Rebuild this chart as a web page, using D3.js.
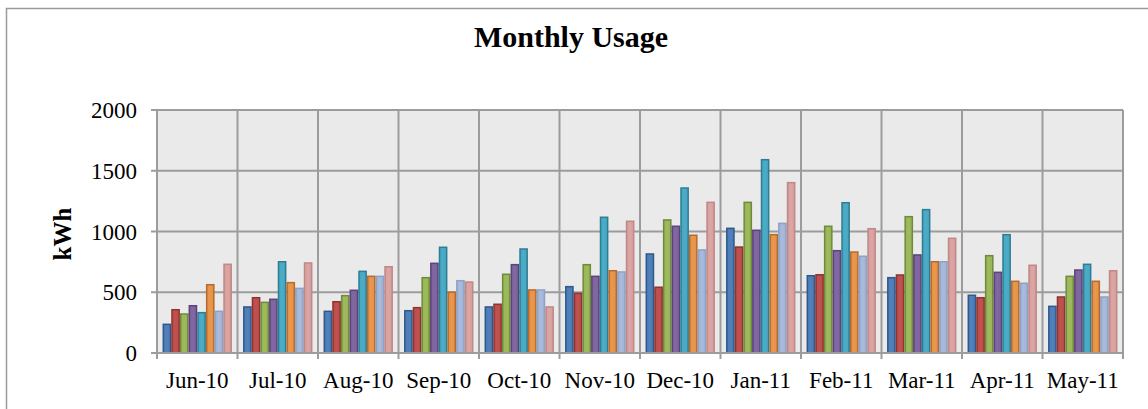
<!DOCTYPE html>
<html>
<head>
<meta charset="utf-8">
<script src="https://cdn.jsdelivr.net/npm/d3@7"></script>
<style>
  html, body { margin: 0; padding: 0; background: #fff; }
  svg { display: block; }
</style>
</head>
<body>
<svg id="chart" width="1148" height="409"></svg>
<script>
const months = ["Jun-10","Jul-10","Aug-10","Sep-10","Oct-10","Nov-10","Dec-10","Jan-11","Feb-11","Mar-11","Apr-11","May-11"];
const seriesNames = ["Series 1","Series 2","Series 3","Series 4","Series 5","Series 6","Series 7","Series 8"];
const s1 = [236, 379, 343, 348, 379, 546, 815, 1026, 636, 620, 475, 384];
const s2 = [356, 455, 422, 373, 401, 491, 541, 872, 644, 642, 455, 461];
const s3 = [321, 417, 472, 620, 648, 727, 1095, 1240, 1043, 1122, 801, 631];
const s4 = [389, 442, 516, 738, 727, 631, 1043, 1010, 842, 807, 664, 683];
const s5 = [332, 751, 672, 870, 856, 1117, 1358, 1591, 1237, 1180, 974, 730];
const s6 = [562, 579, 631, 500, 519, 677, 969, 974, 831, 751, 590, 590];
const s7 = [343, 532, 631, 595, 519, 667, 848, 1067, 796, 751, 574, 461];
const s8 = [730, 741, 710, 584, 379, 1084, 1240, 1402, 1023, 944, 722, 677];
const yTicks = [0, 500, 1000, 1500, 2000];
const titleText = "Monthly Usage";
const yTitle = "kWh";

const fills   = ["#4F7FB8","#BE504D","#9BB85A","#8165A0","#4AAAC4","#E8944C","#A6B8DA","#D9A3A2"];
const strokes = ["#30598A","#8E3431","#6F8A3D","#5B4479","#2F7D94","#B56B2C","#8EA2C6","#C08887"];

const allSeries = [s1,s2,s3,s4,s5,s6,s7,s8];
const svg = d3.select("#chart");
const font = "'Liberation Serif', 'Times New Roman', serif";

// outer chart border (cropped)
svg.append("path").attr("d","M6.5,1200 L6.5,8.5 L1200,8.5")
  .attr("fill","none").attr("stroke","#9a9a9a").attr("stroke-width",1.5);

const L = 157, R = 1123, T = 110, B = 353;
const x0 = d3.scaleBand().domain(months).range([L, R]).padding(0);
const x1 = d3.scaleBand().domain(seriesNames).range([0, x0.bandwidth()]).paddingInner(0).paddingOuter(0.64);
const y = d3.scaleLinear().domain([0, 2000]).range([B, T]);

// plot background
svg.append("rect").attr("x", L).attr("y", T).attr("width", R - L).attr("height", B - T).attr("fill", "#EAEAEA");

const gridColor = "#9c9c9c";
svg.append("g").selectAll("line").data(yTicks).join("line")
  .attr("x1", L - 6).attr("x2", R).attr("y1", d => y(d)).attr("y2", d => y(d))
  .attr("stroke", gridColor).attr("stroke-width", 2);
const bounds = months.map(m => x0(m)).concat([R]);
svg.append("g").selectAll("line").data(bounds).join("line")
  .attr("x1", d => d).attr("x2", d => d).attr("y1", T).attr("y2", B + 6)
  .attr("stroke", gridColor).attr("stroke-width", 2);

const defs = svg.append("defs");
fills.forEach((c, i) => {
  const g = defs.append("linearGradient").attr("id", "g" + i).attr("x1","0").attr("x2","1").attr("y1","0").attr("y2","0");
  const base = d3.color(c);
  g.append("stop").attr("offset","0%").attr("stop-color", base.darker(0.1));
  g.append("stop").attr("offset","45%").attr("stop-color", base.brighter(0.05));
  g.append("stop").attr("offset","100%").attr("stop-color", base.darker(0.08));
});

const barG = svg.append("g");
allSeries.forEach((vals, si) => {
  barG.append("g").selectAll("rect").data(vals.map((v, mi) => ({m: months[mi], v}))).join("rect")
    .attr("x", d => x0(d.m) + x1(seriesNames[si]) + 0.75)
    .attr("y", d => y(d.v))
    .attr("width", x1.bandwidth() - 1.5)
    .attr("height", d => B - y(d.v))
    .attr("fill", "url(#g" + si + ")")
    .attr("stroke", strokes[si]).attr("stroke-width", 1.5);
});

svg.append("line").attr("x1", L - 6).attr("x2", R).attr("y1", B).attr("y2", B)
  .attr("stroke", gridColor).attr("stroke-width", 2);

svg.append("g").selectAll("text").data(yTicks).join("text")
  .attr("x", 137).attr("y", d => y(d) + 8)
  .attr("text-anchor", "end").attr("font-family", font).attr("font-size", 23).attr("fill", "#000")
  .text(d => d);

svg.append("g").selectAll("text").data(months).join("text")
  .attr("x", d => x0(d) + x0.bandwidth() / 2).attr("y", 388)
  .attr("text-anchor", "middle").attr("font-family", font).attr("font-size", 23).attr("fill", "#000")
  .text(d => d);

svg.append("text").attr("x", 571).attr("y", 47).attr("text-anchor", "middle")
  .attr("font-family", font).attr("font-weight", "bold").attr("font-size", 30).text(titleText);

svg.append("text").attr("transform", "translate(71,234) rotate(-90)").attr("text-anchor", "middle")
  .attr("font-family", font).attr("font-weight", "bold").attr("font-size", 25).text(yTitle);
</script>
</body>
</html>
